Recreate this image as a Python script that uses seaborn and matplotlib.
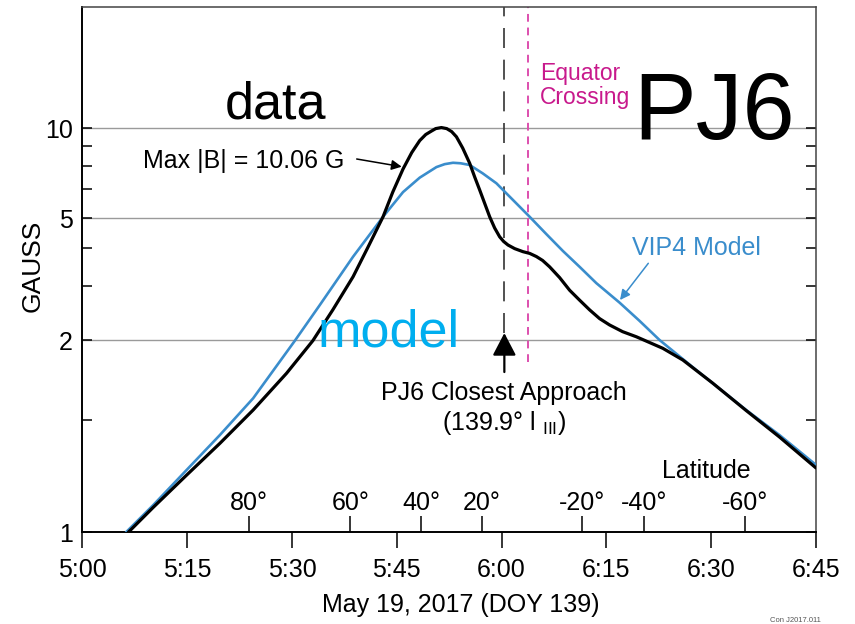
import numpy as np
import pandas as pd
import matplotlib
matplotlib.use("Agg")
import matplotlib.pyplot as plt
import seaborn as sns
from matplotlib.ticker import FixedLocator, NullFormatter

# ---------------- data (minutes after 5:00 UT, Gauss) ----------------
data_min = [6.58, 10.15, 14.93, 19.69, 24.45, 29.23, 32.99, 35.85, 38.75, 40.85,
            43.04, 44.43, 45.90, 47.15, 48.29, 49.15, 49.96, 50.58, 51.39, 52.15,
            52.86, 53.54, 54.44, 55.44, 56.16, 56.87, 58.30, 59.01, 59.73, 60.30,
            60.92, 61.88, 63.06, 64.02, 64.98, 65.88, 66.88, 68.31, 69.74, 71.17,
            72.60, 74.03, 75.46, 77.32, 79.28, 81.18, 83.08, 85.94, 90.19, 95.01,
            99.77, 105.0]
data_gauss = [1.000, 1.094, 1.229, 1.378, 1.554, 1.774, 1.995, 2.51, 3.221, 4.01,
              5.06, 6.12, 7.31, 8.30, 9.10, 9.535, 9.79, 9.98, 10.06, 9.98,
              9.75, 9.37, 8.59, 7.64, 6.87, 6.22, 5.06, 4.65, 4.35, 4.20,
              4.09, 3.98, 3.89, 3.84, 3.75, 3.64, 3.47, 3.20, 2.91, 2.70,
              2.51, 2.35, 2.24, 2.13, 2.05, 1.982, 1.941, 1.861, 1.713, 1.551,
              1.410, 1.261]

model_min = [6.25, 10.15, 14.93, 19.69, 24.45, 30.42, 33.99, 38.75, 43.04, 45.90,
             48.29, 50.68, 51.87, 53.05, 54.15, 55.44, 57.30, 59.26, 61.63, 64.02,
             66.41, 68.78, 71.17, 73.56, 76.89, 79.75, 82.61, 87.86, 95.01, 99.77,
             105.0]
model_gauss = [1.000, 1.103, 1.252, 1.420, 1.621, 1.995, 2.603, 3.745, 5.06, 6.12,
               6.84, 7.42, 7.59, 7.67, 7.64, 7.54, 7.07, 6.55, 5.76, 5.06,
               4.44, 3.91, 3.47, 3.07, 2.65, 2.31, 2.00, 1.795, 1.554, 1.420,
               1.275]

time_ticks = [0, 15, 30, 45, 60, 75, 90, 105]
time_labels = ["5:00", "5:15", "5:30", "5:45", "6:00", "6:15", "6:30", "6:45"]

lat_ticks = [23.88, 38.38, 48.53, 57.20, 71.50, 80.42, 94.91]
lat_labels = ["80°", "60°", "40°", "20°", "-20°", "-40°", "-60°"]

gauss_major = [1, 2, 5, 10]
gauss_major_labels = ["1", "2", "5", "10"]
gauss_minor = [1.5, 3, 4, 6.25, 7.5, 8.75]

closest_approach_min = 60.4
equator_crossing_min = 63.78
max_b = 10.06

# ---------------- figure ----------------
sns.set_theme(style="white")
plt.rcParams["font.family"] = ["Liberation Sans", "DejaVu Sans"]
plt.rcParams["mathtext.fontset"] = "custom"
plt.rcParams["mathtext.rm"] = "Liberation Sans"

W, H = 855, 624
fig = plt.figure(figsize=(W / 100, H / 100), dpi=100)
L, R, T, B = 82.3, 816.0, 7.3, 532.3
ax = fig.add_axes([L / W, 1 - B / H, (R - L) / W, (B - T) / H])

# piecewise log scale of the original plot
LOGA = np.array([-3.0, 0.0, np.log10(2), np.log10(5), 1.0, 3.0])
POSA = np.array([-192.3 / np.log10(2) * 3, 0.0, 192.3, 314.0, 404.0, 404.0 + 299.0 * 2])


def fwd(v):
    v = np.asarray(v, dtype=float)
    return np.interp(np.log10(np.clip(v, 1e-3, None)), LOGA, POSA)


def inv(p):
    return 10 ** np.interp(np.asarray(p, dtype=float), POSA, LOGA)


ax.set_yscale("function", functions=(fwd, inv))

df_data = pd.DataFrame({"t": data_min, "B": data_gauss})
df_model = pd.DataFrame({"t": model_min, "B": model_gauss})
sns.lineplot(data=df_model, x="t", y="B", ax=ax, color="#3a8dcc", lw=1.9, zorder=3)
sns.lineplot(data=df_data, x="t", y="B", ax=ax, color="black", lw=2.3, zorder=4)

ax.set_xlim(0, 105)
ax.set_ylim(1, 25.4)

ax.yaxis.set_major_locator(FixedLocator(gauss_major))
ax.set_yticklabels(gauss_major_labels)
ax.yaxis.set_minor_locator(FixedLocator(gauss_minor))
ax.yaxis.set_minor_formatter(NullFormatter())
ax.set_xticks(time_ticks)
ax.set_xticklabels(time_labels)

ax.yaxis.grid(True, which="major", color="#9a9a9a", lw=1.0)
ax.xaxis.grid(False)
ax.set_axisbelow(True)

for s in ["left", "bottom"]:
    ax.spines[s].set_color("black")
    ax.spines[s].set_linewidth(1.4)
for s in ["top", "right"]:
    ax.spines[s].set_color("#444444")
    ax.spines[s].set_linewidth(1.1)

ax.tick_params(axis="x", which="major", bottom=True, top=False, direction="out",
               length=11.5, width=1.1, color="black", labelsize=18, pad=7,
               labelcolor="black")
ax.tick_params(axis="y", which="both", left=True, right=True, direction="in",
               length=7, width=1.1, color="black", labelsize=18, pad=6.7,
               labelcolor="black")

sec = ax.secondary_xaxis("bottom")
sec.set_xticks(lat_ticks)
sec.set_xticklabels(lat_labels)
sec.tick_params(direction="in", length=11.5, width=1.1, color="black",
                labelsize=18, pad=-30, labelcolor="black")
sec.spines["bottom"].set_visible(False)

ax.set_xlabel("May 19, 2017 (DOY 139)", fontsize=18, color="black")
ax.xaxis.set_label_coords((461 - L) / (R - L), -(593 - B) / (B - T))
ax.set_ylabel("GAUSS", fontsize=19, color="black")
ax.yaxis.set_label_coords((45 - L) / (R - L), (B - 266) / (B - T))

# closest approach dashed line and arrow
ax.vlines(closest_approach_min, 2.108, 25.4, colors="#333333", lw=1.2,
          linestyles=(0, (12, 7)), zorder=2)
ax.annotate("", xy=(closest_approach_min, 2.108), xytext=(closest_approach_min, 1.782),
            arrowprops=dict(arrowstyle="-|>,head_length=1.15,head_width=0.6",
                            color="black", lw=1.6, shrinkA=0, shrinkB=0))
# equator crossing
ax.vlines(equator_crossing_min, 1.847, 25.4, colors="#dd4fae", lw=1.4,
          linestyles=(0, (4, 3)), zorder=2)


def fx(px):
    return px / W


def fy(py):
    return 1 - py / H


fig.text(fx(540), fy(80), "Equator", color="#c8198c", fontsize=16.5, va="baseline")
fig.text(fx(540), fy(104), "Crossing", color="#c8198c", fontsize=16.5, va="baseline")
fig.text(fx(633), fy(139), "PJ6", color="black", fontsize=67.5, va="baseline")
fig.text(fx(225), fy(118.3), "data", color="black", fontsize=37.5, va="baseline")
fig.text(fx(318), fy(346.7), "model", color="#00aeef", fontsize=37.5, va="baseline")
fig.text(fx(143), fy(168.3), f"Max |B| = {max_b:.2f} G", color="black", fontsize=18,
         va="baseline")
fig.text(fx(504), fy(400), "PJ6 Closest Approach", color="black", fontsize=18,
         va="baseline", ha="center")
fig.text(fx(441.7), fy(430), "(139.9° l $_{\\mathregular{III}}$)", color="black",
         fontsize=18, va="baseline")
fig.text(fx(631.7), fy(255), "VIP4 Model", color="#3a8dcc", fontsize=18, va="baseline")
fig.text(fx(661.7), fy(478.3), "Latitude", color="black", fontsize=18, va="baseline")
fig.text(fx(770), fy(623.5), "Con J2017.011", color="#555555", fontsize=5.5, va="bottom")

fig.add_artist(matplotlib.patches.FancyArrowPatch(
    (fx(356.7), fy(159)), (fx(401.7), fy(166.7)), transform=fig.transFigure,
    arrowstyle="-|>,head_length=6,head_width=3", color="black", lw=1.1,
    shrinkA=0, shrinkB=0))
fig.add_artist(matplotlib.patches.FancyArrowPatch(
    (fx(648.3), fy(263.3)), (fx(620), fy(300)), transform=fig.transFigure,
    arrowstyle="-|>,head_length=6,head_width=3", color="#3a8dcc", lw=1.1,
    shrinkA=0, shrinkB=0))

fig.savefig("out.png", dpi=100)
